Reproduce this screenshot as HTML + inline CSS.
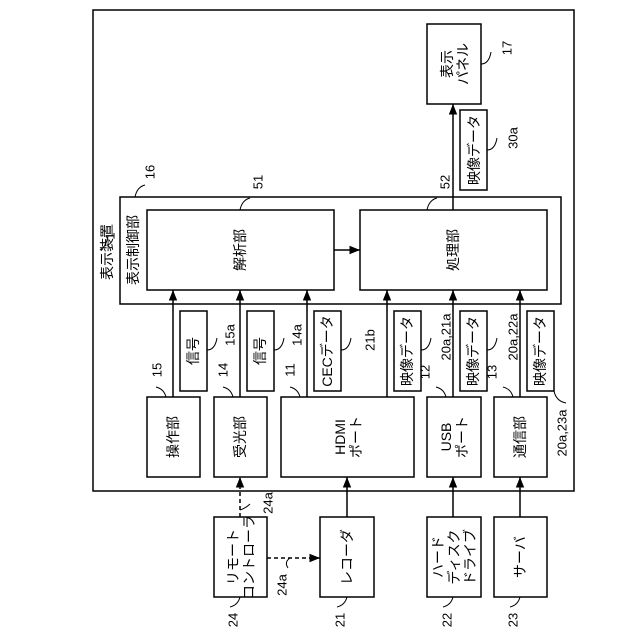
<!DOCTYPE html>
<html><head><meta charset="utf-8"><style>
html,body{margin:0;padding:0;background:#fff;}
svg{display:block;}
text{font-family:"Liberation Sans","Noto Sans CJK JP",sans-serif;fill:#000;}
</style></head><body>
<svg width="640" height="640" viewBox="0 0 640 640" xmlns="http://www.w3.org/2000/svg">
<defs>
<marker id="a" viewBox="0 0 10 10" refX="10" refY="5" markerWidth="7" markerHeight="7" orient="auto-start-reverse"><path d="M0,1 L10,5 L0,9 z" fill="#000"/></marker>
</defs>
<g fill="none" stroke="#000" stroke-width="1.5">
<rect x="93" y="10" width="481" height="481"/>
<rect x="120" y="197" width="441" height="107"/>
<rect x="147" y="210" width="187" height="80"/>
<rect x="360" y="210" width="187" height="80"/>
<rect x="427" y="24" width="54" height="80"/>
<rect x="460" y="110" width="27" height="80"/>
<rect x="147" y="397" width="53" height="80"/>
<rect x="214" y="397" width="53" height="80"/>
<rect x="281" y="397" width="133" height="80"/>
<rect x="427" y="397" width="54" height="80"/>
<rect x="494" y="397" width="53" height="80"/>
<rect x="180" y="311" width="27" height="80"/>
<rect x="247" y="311" width="27" height="80"/>
<rect x="314" y="311" width="27" height="80"/>
<rect x="394" y="311" width="27" height="80"/>
<rect x="460" y="311" width="27" height="80"/>
<rect x="527" y="311" width="27" height="80"/>
<rect x="214" y="517" width="53" height="80"/>
<rect x="320" y="517" width="54" height="80"/>
<rect x="427" y="517" width="54" height="80"/>
<rect x="494" y="517" width="53" height="80"/>
</g>
<g stroke="#000" stroke-width="1.5" fill="none" marker-end="url(#a)">
<line x1="334" y1="250" x2="360" y2="250"/>
<line x1="453" y1="210" x2="453" y2="104"/>
<line x1="173" y1="397" x2="173" y2="290"/>
<line x1="240" y1="397" x2="240" y2="290"/>
<line x1="307" y1="397" x2="307" y2="290"/>
<line x1="387" y1="397" x2="387" y2="290"/>
<line x1="453" y1="397" x2="453" y2="290"/>
<line x1="520" y1="397" x2="520" y2="290"/>
<line x1="347" y1="517" x2="347" y2="477"/>
<line x1="453" y1="517" x2="453" y2="477"/>
<line x1="520" y1="517" x2="520" y2="477"/>
<line x1="240" y1="517" x2="240" y2="477" stroke-dasharray="4,3"/>
<line x1="267" y1="558" x2="320" y2="558" stroke-dasharray="4,3"/>
</g>
<g stroke="#000" stroke-width="1" fill="none">
<path d="M100,250 q6,-3 8,-14"/>
<path d="M135,197 q2,-10 10,-12"/>
<path d="M240,210 q2,-10 10,-12"/>
<path d="M427,210 q2,-10 10,-12"/>
<path d="M481,64 q8,0 10,-12"/>
<path d="M487,150 q8,0 10,-12"/>
<path d="M207,350 q8,0 10,-12"/>
<path d="M274,350 q8,0 10,-12"/>
<path d="M341,350 q8,0 10,-12"/>
<path d="M421,350 q8,0 10,-12"/>
<path d="M487,350 q8,0 10,-12"/>
<path d="M554,391 q2,10 12,12"/>
<path d="M166,397 q-2,-8 -10,-10"/>
<path d="M233,397 q-2,-8 -10,-10"/>
<path d="M300,397 q-2,-8 -10,-10"/>
<path d="M446,397 q-2,-8 -10,-10"/>
<path d="M513,397 q-2,-8 -10,-10"/>
<path d="M240,510 q6,-2 10,-6"/>
<path d="M290,558 q-6,4 -2,10"/>
<path d="M240,597 q-2,8 -10,10"/>
<path d="M347,597 q-2,8 -10,10"/>
<path d="M453,597 q-2,8 -10,10"/>
<path d="M520,597 q-2,8 -10,10"/>
</g>
<g font-size="14" text-anchor="middle" dominant-baseline="central">
<text transform="translate(107,252) rotate(-90)">表示装置</text>
<text transform="translate(133,250) rotate(-90)">表示制御部</text>
<text transform="translate(240,250) rotate(-90)">解析部</text>
<text transform="translate(453,250) rotate(-90)">処理部</text>
<text transform="translate(447,64) rotate(-90)">表示</text>
<text transform="translate(463,64) rotate(-90)">パネル</text>
<text transform="translate(474,150) rotate(-90)">映像データ</text>
<text transform="translate(173,437) rotate(-90)">操作部</text>
<text transform="translate(240,437) rotate(-90)">受光部</text>
<text transform="translate(340,437) rotate(-90)">HDMI</text>
<text transform="translate(356,437) rotate(-90)">ポート</text>
<text transform="translate(446,437) rotate(-90)">USB</text>
<text transform="translate(462,437) rotate(-90)">ポート</text>
<text transform="translate(520,437) rotate(-90)">通信部</text>
<text transform="translate(193,351) rotate(-90)">信号</text>
<text transform="translate(260,351) rotate(-90)">信号</text>
<text transform="translate(327,351) rotate(-90)">CECデータ</text>
<text transform="translate(407,351) rotate(-90)">映像データ</text>
<text transform="translate(473,351) rotate(-90)">映像データ</text>
<text transform="translate(540,351) rotate(-90)">映像データ</text>
<text transform="translate(233,557) rotate(-90)">リモート</text>
<text transform="translate(249,557) rotate(-90)">コントローラ</text>
<text transform="translate(347,557) rotate(-90)">レコーダ</text>
<text transform="translate(438,557) rotate(-90)">ハード</text>
<text transform="translate(454,557) rotate(-90)">ディスク</text>
<text transform="translate(470,557) rotate(-90)">ドライブ</text>
<text transform="translate(520,557) rotate(-90)">サーバ</text>
</g>
<g font-size="13" text-anchor="middle" dominant-baseline="central">
<text transform="translate(110,236) rotate(-90)">1</text>
<text transform="translate(150,172) rotate(-90)">16</text>
<text transform="translate(258,182) rotate(-90)">51</text>
<text transform="translate(445,182) rotate(-90)">52</text>
<text transform="translate(507,48) rotate(-90)">17</text>
<text transform="translate(513,138) rotate(-90)">30a</text>
<text transform="translate(157,370) rotate(-90)">15</text>
<text transform="translate(230,335) rotate(-90)">15a</text>
<text transform="translate(223,370) rotate(-90)">14</text>
<text transform="translate(297,335) rotate(-90)">14a</text>
<text transform="translate(290,370) rotate(-90)">11</text>
<text transform="translate(370,340) rotate(-90)">21b</text>
<text transform="translate(425,372) rotate(-90)">12</text>
<text transform="translate(446,337) rotate(-90)">20a,21a</text>
<text transform="translate(492,372) rotate(-90)">13</text>
<text transform="translate(513,337) rotate(-90)">20a,22a</text>
<text transform="translate(562,433) rotate(-90)">20a,23a</text>
<text transform="translate(268,503) rotate(-90)">24a</text>
<text transform="translate(282,585) rotate(-90)">24a</text>
<text transform="translate(233,620) rotate(-90)">24</text>
<text transform="translate(340,620) rotate(-90)">21</text>
<text transform="translate(447,620) rotate(-90)">22</text>
<text transform="translate(513,620) rotate(-90)">23</text>
</g>
</svg>
</body></html>
